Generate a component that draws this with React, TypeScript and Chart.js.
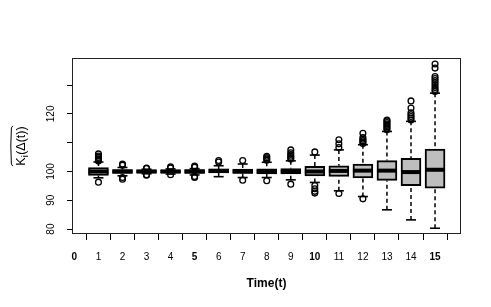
import { useEffect, useRef } from 'react';
import { Chart, registerables } from 'chart.js';

Chart.register(...registerables);

// ---- data ----
const TIMES = [1, 2, 3, 4, 5, 6, 7, 8, 9, 10, 11, 12, 13, 14, 15];
const Q1 = [98.6, 99.3, 99.4, 99.4, 99.3, 99.5, 99.3, 99.2, 99.2, 98.5, 98.3, 97.8, 96.9, 95.1, 94.2];
const MEDIAN = [100.0, 100.0, 100.0, 100.0, 100.0, 100.2, 100.0, 100.0, 100.0, 100.0, 100.2, 100.3, 100.3, 99.8, 100.6];
const Q3 = [101.4, 100.7, 100.6, 100.6, 100.7, 100.9, 100.8, 100.9, 101.0, 101.8, 102.0, 102.6, 103.8, 104.6, 107.8];
const LOWER_WHISKER = [97.8, 98.5, 99.2, 99.1, 98.8, 98.2, 97.9, 97.9, 97.1, 96.2, 93.3, 91.3, 86.7, 83.2, 80.3];
const UPPER_WHISKER = [103.3, 101.4, 100.8, 100.9, 101.0, 102.0, 102.6, 103.2, 103.7, 105.7, 107.5, 109.3, 113.9, 117.4, 127.2];
const UPPER_OUTLIERS: number[][] = [
  [103.6, 104.0, 104.4, 104.9, 105.4, 106.1],
  [102.2, 102.6],
  [101.0, 101.2],
  [101.2, 101.6],
  [101.5, 101.9],
  [103.3, 103.8],
  [103.8],
  [103.9, 104.3, 104.8, 105.3],
  [104.3, 104.8, 105.3, 105.9, 106.5, 107.5],
  [106.8],
  [108.3, 109.6, 111.0],
  [109.7, 110.2, 110.7, 111.2, 111.8, 113.3],
  [114.5, 115.0, 115.5, 116.0, 116.5, 117.0, 117.5, 117.9],
  [117.9, 118.5, 119.1, 119.7, 120.4, 122.0, 124.5],
  [127.8, 128.5, 129.2, 130.0, 130.8, 131.6, 132.3, 133.0, 135.9, 137.3],
];
const LOWER_OUTLIERS: number[][] = [
  [96.3],
  [97.9, 97.3],
  [98.9, 98.7],
  [98.9],
  [98.3, 97.9],
  [],
  [97.0],
  [96.8],
  [95.6],
  [95.1, 94.0, 93.1, 92.5],
  [92.4],
  [90.5],
  [],
  [],
  [],
];
const X_TICKS = [0, 1, 2, 3, 4, 5, 6, 7, 8, 9, 10, 11, 12, 13, 14, 15];
const BOLD_X_TICKS = [0, 5, 10, 15];
const Y_TICKS = [80, 90, 100, 110, 120, 130];
const Y_LABELED = [80, 90, 100, 120];
const X_TITLE = 'Time(t)';
const Y_TITLE_MAIN = 'K';
const Y_TITLE_SUB = 'i';
const Y_TITLE_REST = '(Δ(t))';

const FONT = '"Liberation Sans", Arial, Helvetica, sans-serif';

const framePlugin = {
  id: 'frame',
  afterDatasetsDraw(chart: any) {
    const { ctx, chartArea } = chart;
    const { left, top, right, bottom } = chartArea;
    ctx.save();
    ctx.strokeStyle = '#222';
    ctx.lineWidth = 1;
    ctx.strokeRect(left + 0.5, top + 0.5, right - left - 1, bottom - top - 1);
    ctx.restore();
  },
};

// rotated y tick labels (R style, parallel to the axis), placed through the y scale
const yLabelsPlugin = {
  id: 'yLabels',
  afterDraw(chart: any) {
    const { ctx } = chart;
    const scale = chart.scales.y;
    ctx.save();
    ctx.fillStyle = '#000';
    ctx.font = `10px ${FONT}`;
    ctx.textAlign = 'center';
    ctx.textBaseline = 'middle';
    for (const v of Y_LABELED) {
      const py = scale.getPixelForValue(v);
      ctx.save();
      ctx.translate(scale.right - 21, py);
      ctx.rotate(-Math.PI / 2);
      ctx.fillText(String(v), 0, 0);
      ctx.restore();
    }
    ctx.restore();
  },
};

const yTitlePlugin = {
  id: 'yTitle',
  afterDraw(chart: any) {
    const { ctx, chartArea } = chart;
    const cy = (chartArea.top + chartArea.bottom) / 2;
    ctx.save();
    ctx.translate(25, cy);
    ctx.rotate(-Math.PI / 2);
    ctx.fillStyle = '#000';
    ctx.textBaseline = 'alphabetic';
    ctx.textAlign = 'left';
    const mainFont = `12.5px ${FONT}`;
    const subFont = `9px ${FONT}`;
    ctx.font = mainFont;
    const wK = ctx.measureText(Y_TITLE_MAIN).width;
    const wR = ctx.measureText(Y_TITLE_REST).width;
    ctx.font = subFont;
    const wI = ctx.measureText(Y_TITLE_SUB).width + 0.5;
    const total = wK + wI + wR;
    const start = -total / 2;
    ctx.font = mainFont;
    ctx.fillText(Y_TITLE_MAIN, start, 0);
    ctx.font = subFont;
    ctx.fillText(Y_TITLE_SUB, start + wK, 3);
    ctx.font = mainFont;
    ctx.fillText(Y_TITLE_REST, start + wK + wI, 0);
    // wide hat over the expression
    ctx.strokeStyle = '#000';
    ctx.lineWidth = 1;
    ctx.beginPath();
    ctx.moveTo(start - 0.5, -12.2);
    ctx.lineTo(start + 1.5, -13.6);
    ctx.lineTo(start + total / 2, -14.2);
    ctx.lineTo(start + total - 1.5, -13.6);
    ctx.lineTo(start + total + 0.5, -12.2);
    ctx.stroke();
    ctx.restore();
  },
};

export default function App() {
  const ref = useRef<HTMLCanvasElement | null>(null);

  useEffect(() => {
    if (!ref.current) return;

    const boxes = TIMES.map((t, i) => ({ x: t, y: [Q1[i], Q3[i]] }));
    const medians = TIMES.map((t, i) => ({ x: t, y: MEDIAN[i] }));
    const upperWhiskers = TIMES.flatMap((t, i) => [
      { x: t, y: UPPER_WHISKER[i] },
      { x: t, y: Q3[i] },
      { x: t, y: null },
    ]);
    const lowerWhiskers = TIMES.flatMap((t, i) => [
      { x: t, y: LOWER_WHISKER[i] },
      { x: t, y: Q1[i] },
      { x: t, y: null },
    ]);
    const caps = TIMES.flatMap((t, i) => [
      { x: t, y: UPPER_WHISKER[i] },
      { x: t, y: LOWER_WHISKER[i] },
    ]);
    const outliers = TIMES.flatMap((t, i) => [
      ...UPPER_OUTLIERS[i].map((v) => ({ x: t, y: v })),
      ...LOWER_OUTLIERS[i].map((v) => ({ x: t, y: v })),
    ]);

    const chart = new Chart(ref.current, {
      type: 'bar',
      data: {
        datasets: [
          {
            type: 'scatter',
            data: outliers,
            pointStyle: 'circle',
            pointRadius: 2.9,
            borderWidth: 1.3,
            borderColor: '#000',
            backgroundColor: 'rgba(0,0,0,0)',
            order: 0,
          } as any,
          {
            type: 'scatter',
            data: medians,
            pointStyle: 'line',
            pointRadius: 10,
            borderWidth: 4,
            borderColor: '#000',
            order: 1,
          } as any,
          {
            type: 'bar',
            data: boxes,
            backgroundColor: '#bebebe',
            borderColor: '#000',
            borderWidth: 2,
            borderSkipped: false,
            barThickness: 20,
            grouped: false,
            order: 2,
          } as any,
          {
            type: 'line',
            data: upperWhiskers,
            borderColor: '#000',
            borderWidth: 1.5,
            borderDash: [4, 3],
            pointRadius: 0,
            spanGaps: false,
            order: 3,
          } as any,
          {
            type: 'line',
            data: lowerWhiskers,
            borderColor: '#000',
            borderWidth: 1.5,
            borderDash: [4, 3],
            pointRadius: 0,
            spanGaps: false,
            order: 3,
          } as any,
          {
            type: 'scatter',
            data: caps,
            pointStyle: 'line',
            pointRadius: 5,
            borderWidth: 1.6,
            borderColor: '#000',
            order: 3,
          } as any,
        ],
      },
      options: {
        responsive: false,
        animation: false,
        events: [],
        layout: { padding: { left: 0, top: 58, right: 30, bottom: 0 } },
        plugins: {
          legend: { display: false },
          tooltip: { enabled: false },
        },
        scales: {
          x: {
            type: 'linear',
            min: -0.1,
            max: 16.08,
            offset: false,
            afterBuildTicks: (scale: any) => {
              scale.ticks = X_TICKS.map((v) => ({ value: v }));
            },
            afterFit: (scale: any) => {
              scale.height = 73;
            },
            grid: {
              drawOnChartArea: false,
              drawTicks: true,
              tickLength: 6,
              color: '#000',
            },
            border: { display: false },
            ticks: {
              padding: 11,
              color: '#000',
              autoSkip: false,
              maxRotation: 0,
              callback: (v: any) => String(v),
              font: (ctx: any) => ({
                family: FONT,
                size: 10,
                weight: ctx.tick && BOLD_X_TICKS.includes(ctx.tick.value) ? 'bold' : 'normal',
              }),
            },
            title: {
              display: true,
              text: X_TITLE,
              color: '#000',
              font: { family: FONT, size: 12, weight: 'bold' },
              padding: { top: 0, bottom: 16.5 },
            },
          },
          y: {
            type: 'linear',
            min: 78.3,
            max: 139.4,
            afterBuildTicks: (scale: any) => {
              scale.ticks = Y_TICKS.map((v) => ({ value: v }));
            },
            afterFit: (scale: any) => {
              scale.width = 72;
            },
            grid: {
              drawOnChartArea: false,
              drawTicks: true,
              tickLength: 5,
              color: '#000',
            },
            border: { display: false },
            ticks: {
              padding: 4,
              color: '#000',
              autoSkip: false,
              font: { family: FONT, size: 10 },
              callback: () => '',
            },
          },
        },
      } as any,
      plugins: [framePlugin, yLabelsPlugin, yTitlePlugin],
    });

    return () => chart.destroy();
  }, []);

  return (
    <div style={{ position: 'fixed', left: 0, top: 0, width: 491, height: 307, background: '#fff' }}>
      <canvas ref={ref} width={491} height={307} style={{ display: 'block' }} />
    </div>
  );
}
